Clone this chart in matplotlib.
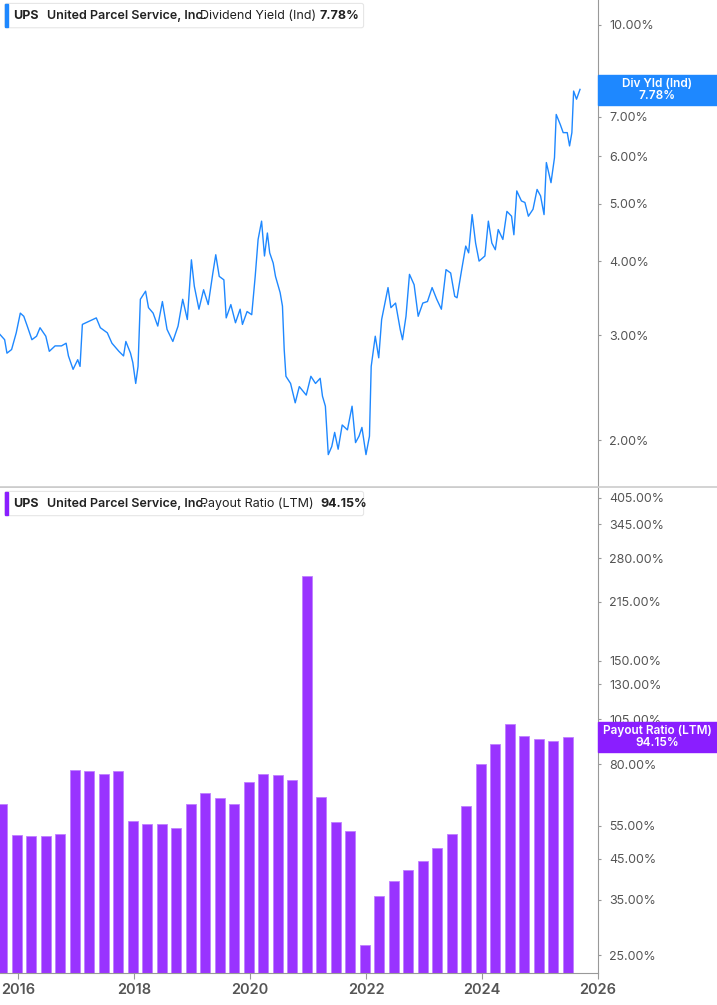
import matplotlib.pyplot as plt
import matplotlib.patches as mpatches
import numpy as np

plt.rcParams['font.family'] = 'Inter'

# Dividend yield (Ind), % -- decimal year / value
yld_dates = [
    2015.69, 2015.77, 2015.81, 2015.89, 2015.97, 2016.04, 2016.10, 2016.16, 2016.24, 2016.32,
    2016.38, 2016.48, 2016.54, 2016.64, 2016.75, 2016.83, 2016.87, 2016.95, 2017.03, 2017.07,
    2017.11, 2017.23, 2017.35, 2017.42, 2017.54, 2017.62, 2017.74, 2017.82, 2017.86, 2017.94,
    2017.98, 2018.03, 2018.07, 2018.11, 2018.20, 2018.25, 2018.33, 2018.41, 2018.49, 2018.57,
    2018.67, 2018.76, 2018.84, 2018.92, 2018.99, 2019.04, 2019.12, 2019.20, 2019.28, 2019.36,
    2019.41, 2019.47, 2019.55, 2019.59, 2019.67, 2019.75, 2019.83, 2019.87, 2019.95, 2020.03,
    2020.09, 2020.14, 2020.20, 2020.25, 2020.30, 2020.34, 2020.40, 2020.44, 2020.52, 2020.56,
    2020.59, 2020.62, 2020.70, 2020.78, 2020.85, 2020.97, 2021.05, 2021.13, 2021.21, 2021.25,
    2021.30, 2021.35, 2021.41, 2021.46, 2021.52, 2021.59, 2021.68, 2021.76, 2021.82, 2021.88,
    2021.93, 2022.00, 2022.06, 2022.09, 2022.16, 2022.22, 2022.27, 2022.38, 2022.43, 2022.51,
    2022.59, 2022.63, 2022.69, 2022.75, 2022.83, 2022.90, 2022.98, 2023.06, 2023.14, 2023.22,
    2023.30, 2023.38, 2023.46, 2023.53, 2023.57, 2023.65, 2023.72, 2023.77, 2023.83, 2023.89,
    2023.95, 2024.05, 2024.11, 2024.17, 2024.23, 2024.28, 2024.36, 2024.43, 2024.51, 2024.55,
    2024.60, 2024.68, 2024.74, 2024.80, 2024.88, 2024.95, 2025.01, 2025.07, 2025.11, 2025.19,
    2025.25, 2025.28, 2025.35, 2025.40, 2025.47, 2025.51, 2025.55, 2025.58, 2025.63, 2025.69,
]
yld_values = [
    3.01, 2.95, 2.80, 2.84, 3.03, 3.27, 3.23, 3.11, 2.95, 2.99,
    3.09, 2.99, 2.82, 2.88, 2.88, 2.91, 2.77, 2.63, 2.73, 2.66,
    3.13, 3.17, 3.21, 3.09, 3.03, 2.91, 2.82, 2.77, 2.93, 2.80,
    2.70, 2.49, 2.66, 3.45, 3.56, 3.34, 3.27, 3.11, 3.42, 3.07,
    2.93, 3.11, 3.45, 3.19, 4.02, 3.63, 3.32, 3.58, 3.38, 3.82,
    4.10, 3.77, 3.72, 3.21, 3.38, 3.15, 3.32, 3.13, 3.29, 3.25,
    3.77, 4.35, 4.67, 4.08, 4.46, 4.13, 3.97, 3.77, 3.54, 3.36,
    2.84, 2.56, 2.49, 2.31, 2.46, 2.38, 2.56, 2.49, 2.54, 2.37,
    2.28, 1.89, 1.95, 2.06, 1.93, 2.12, 2.08, 2.28, 1.98, 2.03,
    2.10, 1.89, 2.03, 2.66, 2.99, 2.75, 3.19, 3.61, 3.34, 3.40,
    3.07, 2.95, 3.23, 3.80, 3.65, 3.23, 3.40, 3.42, 3.61, 3.45,
    3.32, 3.87, 3.82, 3.49, 3.47, 3.87, 4.24, 4.13, 4.79, 4.29,
    4.00, 4.08, 4.67, 4.29, 4.18, 4.52, 4.35, 4.85, 4.76, 4.43,
    5.25, 5.05, 5.02, 4.76, 4.89, 5.28, 5.15, 4.79, 5.86, 5.42,
    5.97, 7.06, 6.79, 6.58, 6.58, 6.25, 6.58, 7.73, 7.49, 7.78,
]

# Payout ratio (LTM), % -- quarterly
payout_quarters = [
    '2015Q3', '2015Q4', '2016Q1', '2016Q2', '2016Q3', '2016Q4', '2017Q1', '2017Q2',
    '2017Q3', '2017Q4', '2018Q1', '2018Q2', '2018Q3', '2018Q4', '2019Q1', '2019Q2',
    '2019Q3', '2019Q4', '2020Q1', '2020Q2', '2020Q3', '2020Q4', '2021Q1', '2021Q2',
    '2021Q3', '2021Q4', '2022Q1', '2022Q2', '2022Q3', '2022Q4', '2023Q1', '2023Q2',
    '2023Q3', '2023Q4', '2024Q1', '2024Q2', '2024Q3', '2024Q4', '2025Q1', '2025Q2',
]
payout_values = [
    62.6, 52.0, 51.5, 51.7, 52.2, 77.1, 76.9, 75.5, 76.8, 56.5,
    55.7, 55.7, 54.2, 62.7, 67.0, 65.2, 62.6, 71.9, 75.2, 74.8,
    72.4, 251.0, 65.6, 56.2, 53.1, 26.6, 35.9, 39.2, 42.0, 44.3,
    48.1, 52.3, 62.0, 80.0, 90.6, 102.4, 95.1, 93.4, 92.1, 94.15,
]

yld_ticks = [2, 3, 4, 5, 6, 7, 10]
payout_ticks = [25, 35, 45, 55, 80, 105, 130, 150, 215, 280, 345, 405]
years = [2016, 2018, 2020, 2022, 2024, 2026]

blue = '#1E88FF'
purple = '#9933FF'
gray = '#555555'

# quarter-end positions in decimal years
payout_x = [int(q[:4]) + int(q[-1]) * 0.25 - 0.02 for q in payout_quarters]

fig = plt.figure(figsize=(7.17, 10.05), dpi=100)
ax1 = fig.add_axes([0, 0.5154, 0.834, 0.4846])
ax2 = fig.add_axes([0, 0.0318, 0.834, 0.4826])

for ax in (ax1, ax2):
    ax.set_yscale('log')
    ax.set_xlim(2015.69, 2026)
    ax.yaxis.tick_right()
    ax.minorticks_off()
    for s in ('top', 'left'):
        ax.spines[s].set_visible(False)
    ax.spines['right'].set_color('#999999')
    ax.spines['bottom'].set_color('#999999')
    ax.tick_params(axis='y', length=2, color='#999999', labelcolor=gray, labelsize=9, pad=6)

# top panel
ax1.plot(yld_dates, yld_values, color=blue, linewidth=1.0)
ax1.set_ylim(1.667, 11.0)
ax1.set_yticks(yld_ticks)
ax1.set_yticklabels([f'{t:.2f}%' for t in yld_ticks])
ax1.set_xticks([])
ax1.spines['bottom'].set_color('#cccccc')

# bottom panel
ax2.set_ylim(22.4, 430)
ax2.bar(payout_x, [v - 22.4 for v in payout_values], bottom=22.4, width=0.17,
        color=purple, edgecolor='#C080FF', linewidth=0.6)
ax2.set_yticks(payout_ticks)
ax2.set_yticklabels([f'{t:.2f}%' for t in payout_ticks])
ax2.set_xticks(years)
ax2.set_xticklabels([str(y) for y in years])
ax2.tick_params(axis='x', length=4, color='#999999', labelcolor=gray, labelsize=10.5)
for lbl in ax2.get_xticklabels():
    lbl.set_fontweight('semibold')

# legend-style headers
def header(ax, color, metric, value):
    box = mpatches.FancyBboxPatch((0.008, 0.943), 0.60, 0.05, transform=ax.transAxes,
                                  boxstyle='round,pad=0,rounding_size=0.004',
                                  facecolor='white', edgecolor='#e6e6e6', linewidth=0.8, zorder=5)
    ax.add_patch(box)
    ax.add_patch(mpatches.Rectangle((0.008, 0.945), 0.006, 0.046, transform=ax.transAxes,
                                    color=color, zorder=6))
    y = 0.968
    ax.text(0.022, y, 'UPS', transform=ax.transAxes, fontsize=9, fontweight='bold',
            va='center', color='#222222', zorder=7)
    ax.text(0.078, y, 'United Parcel Service, Inc.', transform=ax.transAxes, fontsize=9,
            fontweight='semibold', va='center', color='#222222', zorder=7)
    ax.text(0.335, y, metric, transform=ax.transAxes, fontsize=9, va='center',
            color='#222222', zorder=7)
    ax.text(0.535, y, value, transform=ax.transAxes, fontsize=9, fontweight='bold',
            va='center', color='#222222', zorder=7)

header(ax1, blue, 'Dividend Yield (Ind)', '7.78%')
header(ax2, '#8A1EFF', 'Payout Ratio (LTM)', '94.15%')

# value tags on right axis
def tag(y0, y1, color, line1, line2):
    fig.patches.append(mpatches.Rectangle((0.834, 1 - y1 / 1005), 0.166, (y1 - y0) / 1005,
                                          transform=fig.transFigure, color=color))
    yc = 1 - (y0 + y1) / 2 / 1005
    fig.text(0.917, yc + 0.006, line1, ha='center', va='center', color='white',
             fontsize=8.5, fontweight='semibold')
    fig.text(0.917, yc - 0.006, line2, ha='center', va='center', color='white',
             fontsize=8.5, fontweight='semibold')

tag(75, 105, blue, 'Div Yld (Ind)', '7.78%')
tag(722, 752, '#8A1EFF', 'Payout Ratio (LTM)', '94.15%')

# separator between panels
fig.add_artist(plt.Line2D([0, 1], [1 - 487.5 / 1005] * 2, color='#cccccc', linewidth=1.2))

fig.savefig('out.png', dpi=100, facecolor='white')
